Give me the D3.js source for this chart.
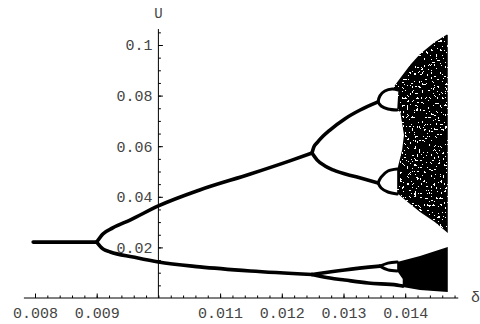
<!DOCTYPE html>
<html>
<head>
<meta charset="utf-8">
<script src="https://cdnjs.cloudflare.com/ajax/libs/d3/7.8.5/d3.min.js"></script>
<style>
  body { margin: 0; background: #fff; }
  svg text { font-family: "Liberation Mono", "Courier New", monospace !important; }
</style>
</head>
<body>
<script>
// bifurcation branches: [d, U]
var period1 = [[0.00797, 0.0221], [0.0090, 0.0221]];
var upper2 = [[0.0090, 0.0221], [0.00910, 0.0253], [0.00926, 0.0277], [0.00954, 0.0308], [0.0100, 0.0364],
              [0.01067, 0.0427], [0.01149, 0.0490], [0.01213, 0.0542], [0.01249, 0.0573]];
var lower2 = [[0.0090, 0.0221], [0.00910, 0.0194], [0.00922, 0.0182], [0.00959, 0.0162], [0.0100, 0.0142],
              [0.01067, 0.0123], [0.01149, 0.0107], [0.01249, 0.0093]];
var upper4a = [[0.01249, 0.0573], [0.01252, 0.0597], [0.01257, 0.0613], [0.01267, 0.0640], [0.01278, 0.0664],
               [0.01302, 0.0708], [0.01327, 0.0743], [0.01356, 0.0775]];
var upper4b = [[0.01249, 0.0573], [0.01257, 0.0546], [0.01270, 0.0522], [0.01283, 0.0506], [0.01322, 0.0478],
               [0.01356, 0.0455]];
var lower4a = [[0.01249, 0.0093], [0.01302, 0.0111], [0.01359, 0.0126]];
var lower4b = [[0.01249, 0.0093], [0.01278, 0.0079], [0.01302, 0.0071], [0.01340, 0.0059], [0.01387, 0.0051],
               [0.01396, 0.0047]];
// period-8 loops (top arc, bottom arc)
var loops = [
  [[0.01356, 0.0775], [0.01359, 0.0799], [0.01367, 0.0818], [0.01379, 0.0826], [0.01389, 0.0822]],
  [[0.01356, 0.0775], [0.01361, 0.0759], [0.01372, 0.0747], [0.01387, 0.0743]],
  [[0.01356, 0.0455], [0.01361, 0.0478], [0.01372, 0.0502], [0.01387, 0.0510]],
  [[0.01356, 0.0455], [0.01361, 0.0435], [0.01372, 0.0419], [0.01387, 0.0411]],
  [[0.01359, 0.0126], [0.01372, 0.0138], [0.01387, 0.0142]],
  [[0.01359, 0.0126], [0.01372, 0.0111], [0.01387, 0.0107]]
];
// chaotic bands outlines
var chaosUpper = [[0.01379, 0.0826], [0.01392, 0.0870], [0.01408, 0.0921], [0.01424, 0.0964], [0.01448, 0.1012],
                  [0.01469, 0.1043], [0.01469, 0.0257], [0.01448, 0.0300], [0.01424, 0.0340], [0.01400, 0.0387],
                  [0.01387, 0.0415], [0.01387, 0.0506], [0.01395, 0.0585], [0.01398, 0.0644], [0.01392, 0.0735],
                  [0.01387, 0.0743], [0.01389, 0.0822]];
var chaosLower = [[0.01387, 0.0142], [0.01424, 0.0166], [0.01469, 0.0202], [0.01469, 0.0024], [0.01424, 0.0032],
                  [0.01396, 0.0043], [0.01396, 0.0075], [0.01387, 0.0107]];

var xMajor = [0.008, 0.009, 0.011, 0.012, 0.013, 0.014];
var xLabels = ["0.008", "0.009", "0.011", "0.012", "0.013", "0.014"];
var yMajor = [0.02, 0.04, 0.06, 0.08, 0.1];
var yLabels = ["0.02", "0.04", "0.06", "0.08", "0.1"];
var xExtent = [0.00782, 0.01486];
var yExtent = [0, 0.1063];

function main() {
  document.body.innerHTML = '<svg width="480" height="324"></svg>';
  var svg = d3.select("svg");
  var x = d3.scaleLinear().domain([0.008, 0.014]).range([35, 405.2]);
  var y = d3.scaleLinear().domain([0, 0.1]).range([298, 45]);

  // speckle texture for the chaotic band (white holes inside the black area)
  var defs = svg.append("defs");
  var f = defs.append("filter").attr("id", "speck").attr("x", 0).attr("y", 0).attr("width", 1).attr("height", 1);
  f.append("feTurbulence").attr("type", "fractalNoise").attr("baseFrequency", 0.42).attr("numOctaves", 2)
    .attr("seed", 5).attr("result", "n");
  f.append("feColorMatrix").attr("in", "n").attr("type", "matrix")
    .attr("values", "0 0 0 0 1  0 0 0 0 1  0 0 0 0 1  1 0 0 0 0").attr("result", "a");
  f.append("feComponentTransfer").attr("in", "a").attr("result", "t")
    .append("feFuncA").attr("type", "discrete").attr("tableValues", "0 0 0 0 0 0 0 0 1 1 1 1");
  f.append("feComposite").attr("in", "t").attr("in2", "SourceGraphic").attr("operator", "in").attr("result", "holes");
  var m = f.append("feMerge");
  m.append("feMergeNode").attr("in", "SourceGraphic");
  m.append("feMergeNode").attr("in", "holes");

  var line = d3.line().x(function (d) { return x(d[0]); }).y(function (d) { return y(d[1]); }).curve(d3.curveMonotoneX);
  var plain = d3.line().x(function (d) { return x(d[0]); }).y(function (d) { return y(d[1]); });

  svg.append("path").attr("d", plain(chaosUpper) + "Z").attr("fill", "#000").attr("filter", "url(#speck)");
  svg.append("path").attr("d", plain(chaosLower) + "Z").attr("fill", "#000");

  var g = svg.append("g").attr("fill", "none").attr("stroke", "#000").attr("stroke-width", 3.6)
    .attr("stroke-linecap", "round").attr("stroke-linejoin", "round");
  [period1, upper2, lower2, upper4a, upper4b, lower4a, lower4b].forEach(function (b) {
    g.append("path").attr("d", line(b));
  });
  var gl = svg.append("g").attr("fill", "none").attr("stroke", "#000").attr("stroke-width", 3)
    .attr("stroke-linecap", "round");
  loops.forEach(function (b) {
    gl.append("path").attr("d", d3.line().x(function (d) { return x(d[0]); }).y(function (d) { return y(d[1]); })
      .curve(d3.curveCatmullRom)(b));
  });

  // axes
  var x0 = y(0), y0 = x(0.010);
  var xa = svg.append("g").attr("transform", "translate(0," + x0 + ")");
  xa.call(d3.axisBottom(x).tickValues(d3.range(0.0080, 0.01481, 0.0002)).tickSize(-2.5).tickFormat(""));
  xa.append("g").call(d3.axisBottom(x).tickValues(xMajor).tickSize(-4.5).tickPadding(9)
    .tickFormat(function (d, i) { return xLabels[i]; }));
  xa.selectAll(".domain").remove();
  xa.selectAll("text").attr("font-size", 15).attr("fill", "#444");
  xa.append("line").attr("x1", x(xExtent[0])).attr("x2", x(xExtent[1])).attr("stroke", "#000");

  var ya = svg.append("g").attr("transform", "translate(" + y0 + ",0)");
  ya.call(d3.axisLeft(y).tickValues(d3.range(0.005, 0.1051, 0.005)).tickSize(-2.5).tickFormat(""));
  ya.append("g").call(d3.axisLeft(y).tickValues(yMajor).tickSize(-4.5).tickPadding(6)
    .tickFormat(function (d, i) { return yLabels[i]; }));
  ya.selectAll(".domain").remove();
  ya.selectAll("text").attr("font-size", 15).attr("fill", "#444");
  ya.append("line").attr("y1", y(yExtent[0])).attr("y2", y(yExtent[1])).attr("stroke", "#000");

  svg.append("text").attr("x", y0).attr("y", 18).attr("text-anchor", "middle").attr("font-size", 14)
    .attr("fill", "#444").text("U");
  svg.append("text").attr("x", 471).attr("y", x0 + 4).attr("font-size", 15).attr("fill", "#444").text("δ");
}
main();
</script>
</body>
</html>
